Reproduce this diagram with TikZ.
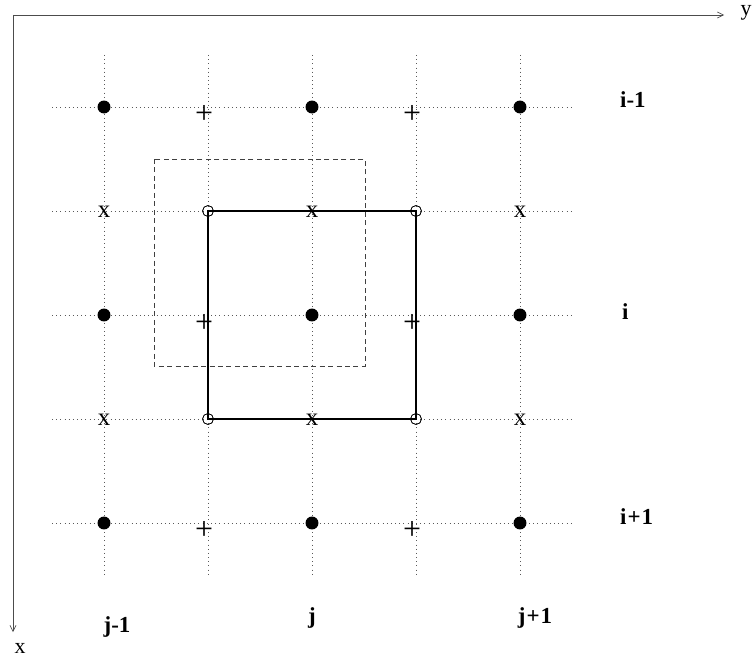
\documentclass[tikz,border=0pt]{standalone}
\usepackage{fontspec}
\setmainfont{Liberation Serif}
\usetikzlibrary{arrows.meta}
\tikzset{
  gridline/.style={line width=0.6pt, gray!70!black, dash pattern=on 1pt off 3.2pt},
  axisline/.style={line width=0.6pt, black!70, -{Straight Barb[length=6pt,width=6pt]}},
  fulldot/.style={circle, fill=black, inner sep=0pt, minimum size=13pt},
  opendot/.style={circle, draw=black, line width=0.6pt, inner sep=0pt, minimum size=11pt},
  xmark/.style={inner sep=0pt, font=\fontsize{25}{25}\selectfont},
  pmark/.style={inner sep=0pt, font=\fontsize{32}{32}\selectfont},
  lab/.style={inner sep=0pt, font=\fontsize{23}{24}\selectfont\bfseries},
  axlab/.style={inner sep=0pt, font=\fontsize{22}{24}\selectfont},
  cell/.style={line width=1.4pt, black},
  dcell/.style={line width=0.8pt, black!75, dash pattern=on 5pt off 3.5pt}
}
\begin{document}
\begin{tikzpicture}[x=1bp,y=-1bp]
\useasboundingbox (0,0) rectangle (756,660);
% axes
\coordinate (o) at (13,15);
\coordinate (ye) at (724,15);
\coordinate (xe) at (13,632);
\draw[axisline] (o) -- (ye);
\draw[axisline] (o) -- (xe);
\node[axlab] (ylab) at (746,13) {y};
\node[axlab] (xlab) at (20,648) {x};
% dotted grid
\foreach \c in {104,208,312,416,520} {
  \coordinate (vt\c) at (\c,55);
  \coordinate (vb\c) at (\c,575);
  \draw[gridline] (vt\c) -- (vb\c);
}
\foreach \r in {107,211,315,419,523} {
  \coordinate (hl\r) at (52,\r);
  \coordinate (hr\r) at (572,\r);
  \draw[gridline] (hl\r) -- (hr\r);
}
% dashed cell
\coordinate (q1) at (154,159);
\coordinate (q2) at (365,366);
\draw[dcell] (q1) rectangle (q2);
% open circles and solid cell
\node[opendot] (c1) at (208,211) {};
\node[opendot] (c2) at (416,211) {};
\node[opendot] (c3) at (416,419) {};
\node[opendot] (c4) at (208,419) {};
\draw[cell] (c1.center) -- (c2.center) -- (c3.center) -- (c4.center) -- cycle;
\foreach \n in {c1,c2,c3,c4} \node[opendot, fill=none] at (\n) {};
% filled dots
\foreach \c in {104,312,520} {
  \foreach \r in {107,315,523} {
    \node[fulldot] (d\c-\r) at (\c,\r) {};
  }
}
% x marks
\foreach \c in {104,312,520} {
  \foreach \r in {211,419} {
    \node[xmark] (x\c-\r) at (\c,\r+0.5) {x};
  }
}
% plus marks
\node[pmark] (p1) at (204,114) {+};
\node[pmark] (p2) at (412,114) {+};
\node[pmark] (p3) at (204,323) {+};
\node[pmark] (p4) at (412,323) {+};
\node[pmark] (p5) at (204,530) {+};
\node[pmark] (p6) at (412,530) {+};
% labels
\node[lab, anchor=west] (li1) at (620,100) {i-1};
\node[lab, anchor=west] (li2) at (622,312) {i};
\node[lab, anchor=west] (li3) at (620,517) {i\hspace{1pt}+\hspace{1pt}1};
\node[lab] (lj1) at (117,627) {j-1};
\node[lab] (lj2) at (312,618) {j};
\node[lab] (lj3) at (535,618) {j\hspace{1pt}+\hspace{1pt}1};
\end{tikzpicture}
\end{document}
